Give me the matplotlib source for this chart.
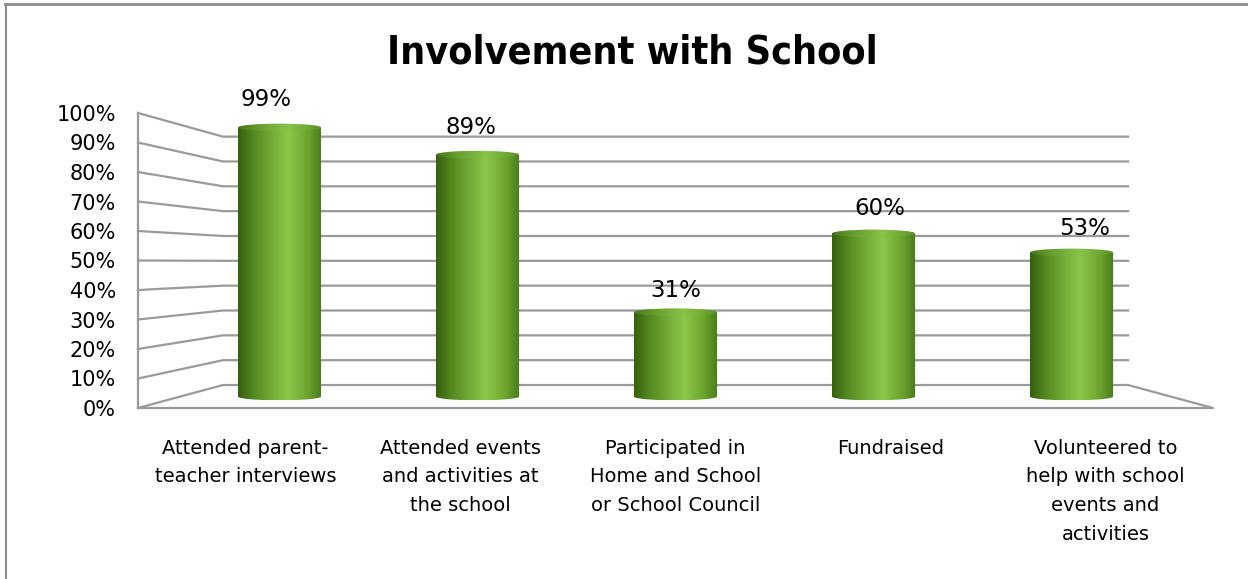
import matplotlib
matplotlib.use("Agg")
import matplotlib.pyplot as plt
import numpy as np
from matplotlib import font_manager
from matplotlib.colors import LinearSegmentedColormap
from matplotlib.patches import PathPatch
from matplotlib.path import Path
from matplotlib.lines import Line2D

# chart data
categories = [
    "Attended parent-\nteacher interviews",
    "Attended events\nand activities at\nthe school",
    "Participated in\nHome and School\nor School Council",
    "Fundraised",
    "Volunteered to\nhelp with school\nevents and\nactivities",
]
values = [99, 89, 31, 60, 53]
value_labels = ["99%", "89%", "31%", "60%", "53%"]
y_ticks = list(range(0, 101, 10))
y_tick_labels = [f"{t}%" for t in y_ticks]
title = "Involvement with School"

# fake 3d: perspective towards a vanishing point, depth 0 = front, 1 = back
VP_X, VP_Y = 2.5, 49.3
SHRINK = 0.158
BAR_DEPTH = 0.5
LABEL_DEPTH = 0.3
BAR_HALF = 0.21
GRID_COLOR = "#9a9a9a"

plt.rcParams["font.family"] = ["DejaVu Sans"]


def project(x, y, d):
    s = 1 - SHRINK * np.asarray(d, dtype=float)
    return VP_X + (np.asarray(x) - VP_X) * s, VP_Y + (np.asarray(y) - VP_Y) * s


fig = plt.figure(figsize=(12.48, 5.79), dpi=100)
ax = fig.add_axes([138 / 1248, 1 - 408 / 579, 1075 / 1248, 295 / 579])
ax.set_xlim(0, len(categories))
ax.set_ylim(0, 100)
for sp in ax.spines.values():
    sp.set_visible(False)

# walls and floor
n = len(categories)
for t in y_ticks:
    x0, y0 = project(0, t, 0)
    x1, y1 = project(0, t, 1)
    x2, y2 = project(n, t, 1)
    ax.plot([x0, x1, x2], [y0, y1, y2], color=GRID_COLOR, lw=1.6,
            zorder=1, clip_on=False, solid_joinstyle="miter")
ax.plot([0, 0], [0, 100], color=GRID_COLOR, lw=1.6, zorder=1, clip_on=False)
fx, fy = project([0, n, n], [0, 0, 0], [0, 0, 1])
ax.plot(fx, fy, color=GRID_COLOR, lw=1.6, zorder=1, clip_on=False)

# cylinders with a horizontal shading gradient
cmap = LinearSegmentedColormap.from_list(
    "cyl", [(0, "#36600f"), (0.22, "#5a8f24"), (0.6, "#8cc84b"),
            (0.85, "#6aa02c"), (1, "#497a1b")])
grad = np.linspace(0, 1, 256).reshape(1, -1)
theta = np.linspace(0, np.pi, 40)
ell_h = 1.3
for i, v in enumerate(values):
    cx = i + 0.5
    xl, yb = project(cx - BAR_HALF, 0, BAR_DEPTH)
    xr, _ = project(cx + BAR_HALF, 0, BAR_DEPTH)
    _, yt = project(cx, v, BAR_DEPTH)
    xm = (xl + xr) / 2
    hw = (xr - xl) / 2
    top = np.column_stack([xm - hw * np.cos(theta), yt + ell_h * np.sin(theta)])
    bot = np.column_stack([xm + hw * np.cos(theta), yb - ell_h * np.sin(theta)])
    verts = np.vstack([top, bot, top[:1]])
    patch = PathPatch(Path(verts, closed=True), facecolor="none", edgecolor="none")
    ax.add_patch(patch)
    im = ax.imshow(grad, cmap=cmap, aspect="auto", zorder=3,
                   extent=[xl, xr, yb - ell_h, yt + ell_h], interpolation="bilinear")
    im.set_clip_path(patch)
    # top cap
    ang = np.linspace(0, 2 * np.pi, 80)
    cap = np.column_stack([xm - hw * np.cos(ang), yt + ell_h * np.sin(ang)])
    ax.add_patch(PathPatch(Path(cap, closed=True), facecolor="#7fb944",
                           edgecolor="none", alpha=0.25, zorder=4))
    lx, ly = project(cx, v, LABEL_DEPTH)
    ax.annotate(value_labels[i], (lx, ly), xytext=(0, 17),
                textcoords="offset points", ha="center", va="center",
                fontsize=16.5, zorder=5, annotation_clip=False)

ax.set_xlim(0, n)
ax.set_ylim(0, 100)

ax.set_yticks(y_ticks)
ax.set_yticklabels(y_tick_labels, fontsize=15)
ax.set_xticks([i + 0.5 for i in range(n)])
ax.set_xticklabels(categories, fontsize=14, linespacing=1.66, va="top")
ax.tick_params(axis="y", length=0, pad=16)
ax.tick_params(axis="x", length=0, pad=22)

# title in a narrow bold face when one is installed
title_size = 25
title_kw = dict(family=["DejaVu Sans"], fontweight="bold")
for fam, stretch, size in [("Liberation Sans Narrow", "normal", 33),
                           ("DejaVu Sans", "condensed", 28.3)]:
    fp = font_manager.FontProperties(family=fam, weight="bold", stretch=stretch)
    try:
        found = font_manager.findfont(fp, fallback_to_default=False)
    except Exception:
        found = ""
    if ("Narrow" in found) or ("Condensed" in found):
        title_kw = dict(family=[fam, "DejaVu Sans"], fontweight="bold",
                        fontstretch=stretch)
        title_size = size
        break

fig.text(632 / 1248, 1 - 52 / 579, title, ha="center", va="center",
         fontsize=title_size, **title_kw)

# chart frame (only top and left edges are inside the picture)
fig.add_artist(Line2D([5 / 1248, 1], [1 - 4 / 579, 1 - 4 / 579],
                      transform=fig.transFigure, color="#8c8c8c", lw=2))
fig.add_artist(Line2D([6 / 1248, 6 / 1248], [0, 1 - 4 / 579],
                      transform=fig.transFigure, color="#8c8c8c", lw=1.5))

fig.savefig("out.png", dpi=100)
